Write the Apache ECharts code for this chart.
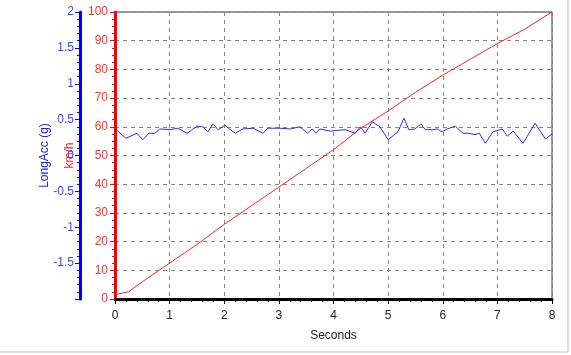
<!DOCTYPE html>
<html>
<head>
<meta charset="utf-8">
<script src="https://cdn.jsdelivr.net/npm/echarts@6/dist/echarts.min.js"></script>
<style>
  html, body { margin: 0; padding: 0; background: #fff; }
  #chart { width: 571px; height: 355px; }
</style>
</head>
<body>
<div id="chart"></div>
<script>
// speed trace (km/h), sampled in seconds
const speedTime = [0, 0.25, 0.5, 1, 1.5, 2, 2.5, 3, 3.5, 4, 4.5, 5, 5.5, 6, 6.5, 7, 7.5, 8];
const speedKmh = [1.5, 2.5, 6, 12.5, 19, 26, 32.5, 39, 45.5, 52, 59.5, 65.5, 72, 78, 83.5, 89, 94, 100];

// longitudinal acceleration (g)
const accTime = [0.02, 0.2, 0.4, 0.51, 0.62, 0.73, 0.82, 1.01, 1.15, 1.32, 1.5, 1.61, 1.7, 1.79, 1.89,
  2.01, 2.2, 2.34, 2.53, 2.71, 2.8, 3.02, 3.21, 3.39, 3.52, 3.61, 3.68, 3.75, 3.94, 4.21, 4.4, 4.49,
  4.58, 4.71, 4.85, 5.0, 5.18, 5.29, 5.38, 5.49, 5.6, 5.68, 5.81, 5.9, 5.99, 6.08, 6.23, 6.37, 6.47,
  6.59, 6.67, 6.78, 6.92, 7.09, 7.18, 7.29, 7.47, 7.69, 7.88, 8.0];
const accG = [0.36, 0.24, 0.31, 0.22, 0.31, 0.31, 0.37, 0.36, 0.38, 0.31, 0.41, 0.4, 0.33, 0.44, 0.36,
  0.42, 0.31, 0.37, 0.38, 0.31, 0.38, 0.38, 0.37, 0.4, 0.31, 0.37, 0.31, 0.37, 0.34, 0.36, 0.31, 0.4,
  0.31, 0.47, 0.4, 0.22, 0.33, 0.52, 0.36, 0.37, 0.44, 0.36, 0.36, 0.37, 0.33, 0.37, 0.41, 0.31, 0.31,
  0.29, 0.31, 0.17, 0.33, 0.37, 0.27, 0.34, 0.17, 0.45, 0.23, 0.3];

const font = 'Liberation Sans, Arial, sans-serif';

const chart = echarts.init(document.getElementById('chart'));
chart.setOption({
    animation: false,
    grid: {
        left: 115, right: 19, top: 12, bottom: 56,
        show: true, borderColor: '#333', borderWidth: 1
    },
    xAxis: {
        type: 'value', min: 0, max: 8, interval: 1,
        name: 'Seconds', nameLocation: 'middle', nameGap: 31, nameMoveOverlap: false,
        nameTextStyle: { color: '#222', fontSize: 12, fontFamily: font },
        axisLine: { lineStyle: { color: '#000', width: 3 } },
        axisTick: { length: 5, lineStyle: { color: '#000' } },
        minorTick: { show: true, splitNumber: 5, length: 3, lineStyle: { color: '#000' } },
        axisLabel: { color: '#222', fontSize: 12, fontFamily: font, margin: 11 },
        splitLine: { show: true, lineStyle: { color: '#888', type: [4, 4] } }
    },
    yAxis: [{
        type: 'value', min: 0, max: 100, interval: 10, position: 'left',
        name: 'km/h', nameLocation: 'middle', nameGap: 39, nameRotate: 90, nameMoveOverlap: false,
        nameTextStyle: { color: '#ff2020', fontSize: 12, fontFamily: font },
        axisLine: { show: true, lineStyle: { color: '#ff0000', width: 3 } },
        axisTick: { show: true, length: 5, lineStyle: { color: '#ff0000' } },
        minorTick: { show: true, splitNumber: 4, length: 3, lineStyle: { color: '#ff0000' } },
        axisLabel: { color: '#ff3030', fontSize: 12, fontFamily: font, margin: 7 },
        splitLine: { show: true, lineStyle: { color: '#888', type: [4, 4] } }
    }, {
        type: 'value', min: -2, max: 2, interval: 0.5, position: 'left', offset: 35,
        name: 'LongAcc (g)', nameLocation: 'middle', nameGap: 29, nameRotate: 90, nameMoveOverlap: false,
        nameTextStyle: { color: '#2020ff', fontSize: 12, fontFamily: font },
        axisLine: { show: true, lineStyle: { color: '#0000ff', width: 3 } },
        axisTick: { show: true, length: 5, lineStyle: { color: '#0000ff' } },
        minorTick: { show: true, splitNumber: 5, length: 3, lineStyle: { color: '#0000ff' } },
        axisLabel: {
            color: '#4040ff', fontSize: 12, fontFamily: font, margin: 6,
            formatter: v => (v === -2 ? '' : String(v))
        },
        splitLine: { show: false }
    }],
    series: [{
        type: 'line', yAxisIndex: 0, symbol: 'none',
        lineStyle: { color: '#ff2020', width: 1 },
        data: speedTime.map((t, i) => [t, speedKmh[i]])
    }, {
        type: 'line', yAxisIndex: 1, symbol: 'none',
        lineStyle: { color: '#2a2aff', width: 1 },
        data: accTime.map((t, i) => [t, accG[i]])
    }],
    graphic: [
        { type: 'line', shape: { x1: 568, y1: 0, x2: 568, y2: 352 }, style: { stroke: '#bbb', lineWidth: 1 } },
        { type: 'line', shape: { x1: 0, y1: 352, x2: 568, y2: 352 }, style: { stroke: '#bbb', lineWidth: 1 } }
    ]
});
</script>
</body>
</html>
